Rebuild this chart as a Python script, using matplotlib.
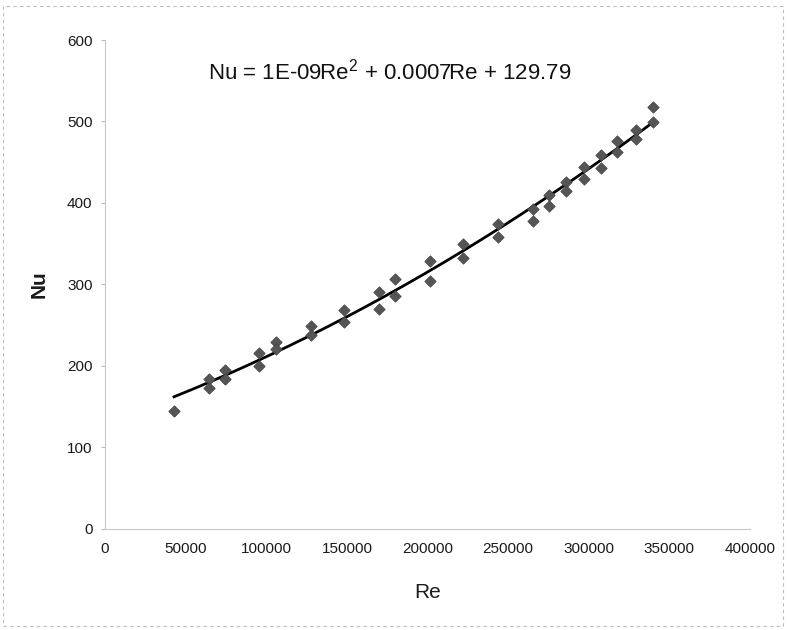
import numpy as np
import matplotlib
matplotlib.use("Agg")
from matplotlib import pyplot as plt
from matplotlib.patches import Rectangle

# data
re_vals = [42800, 64500, 64500, 74400, 74400, 95700, 95700, 106000, 106000,
           127600, 127600, 148200, 148200, 170000, 170000, 179800, 179800,
           201600, 201600, 222200, 222200, 243900, 243900, 265200, 265200,
           275500, 275500, 285900, 285900, 297000, 297000, 307400, 307400,
           317700, 317700, 329300, 329300, 340000, 340000]
nu_vals = [144, 184, 172, 195, 184, 216, 199, 229, 221,
           249, 238, 268, 254, 291, 269, 306, 285,
           329, 304, 350, 332, 374, 358, 392, 378,
           410, 396, 426, 414, 444, 429, 459, 443,
           476, 463, 490, 478, 518, 499]
x_ticks = [0, 50000, 100000, 150000, 200000, 250000, 300000, 350000, 400000]
y_ticks = [0, 100, 200, 300, 400, 500, 600]
eq_text = r"Nu = 1E-09Re$^{2}$ + 0.0007Re + 129.79"

plt.rcParams['font.family'] = ['Liberation Sans', 'DejaVu Sans']
plt.rcParams['mathtext.fontset'] = 'custom'
plt.rcParams['mathtext.rm'] = 'Liberation Sans'

fig = plt.figure(figsize=(7.88, 6.3), dpi=100)
ax = fig.add_axes([105/788, 1 - 528.5/630, 645/788, 488.5/630])

re = np.array(re_vals, dtype=float)
nu = np.array(nu_vals, dtype=float)

#quadratic trend line like the spreadsheet one
coef = np.polyfit(re, nu, 2)
xs = np.linspace(re.min(), re.max(), 200)
ax.plot(xs, np.polyval(coef, xs), color='black', lw=2, zorder=2)
ax.scatter(re, nu, marker='D', s=34, color='#555555', edgecolors='#444444',
           linewidths=0.5, zorder=3)

ax.set_xlim(0, 400000)
ax.set_ylim(0, 600)
ax.set_xticks(x_ticks)
ax.set_yticks(y_ticks)
ax.set_xticklabels([str(t) for t in x_ticks])
ax.tick_params(axis='both', labelsize=11, colors='#bbbbbb', labelcolor='#1a1a1a',
               length=3, width=0.8)
ax.tick_params(axis='x', length=0, pad=10)
ax.tick_params(axis='y', pad=6)
for s in ['top', 'right']:
    ax.spines[s].set_visible(False)
for s in ['left', 'bottom']:
    ax.spines[s].set_color('#c8c8c8')
    ax.spines[s].set_linewidth(0.8)

ax.set_xlabel('Re', fontsize=15, labelpad=19, color='#1a1a1a')
ax.set_ylabel('Nu', fontsize=15, fontweight='bold', labelpad=13, color='#1a1a1a')

fig.text(390/788, 1 - 72/630, eq_text, fontsize=16, ha='center', va='center',
         color='#111111')

# faint dashed chart border
fig.patches.append(Rectangle((0.004, 0.006), 0.99, 0.985, transform=fig.transFigure,
                             fill=False, edgecolor='#bbbbbb', lw=0.8, ls=(0, (3, 3))))

fig.savefig('out.png', dpi=100)
